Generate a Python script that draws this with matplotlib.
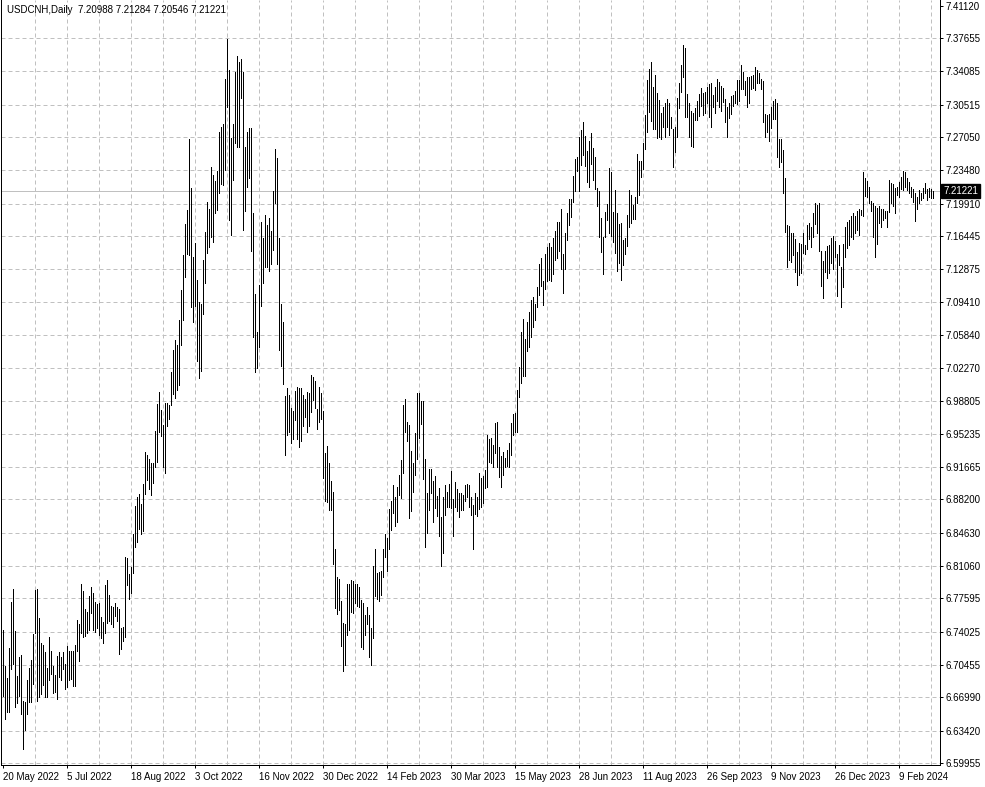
import numpy as np
import pandas as pd
import matplotlib
matplotlib.use("Agg")
import matplotlib.pyplot as plt

# USDCNH daily bars (high / low)
highs = [
    6.742, 6.704, 6.691, 6.723, 6.772, 6.786, 6.741, 6.693, 6.713, 6.715,
    6.666, 6.665, 6.689, 6.701, 6.710, 6.738, 6.785, 6.786, 6.755, 6.728,
    6.726, 6.718, 6.701, 6.735, 6.720, 6.703, 6.694, 6.714, 6.718, 6.713,
    6.718, 6.706, 6.725, 6.720, 6.720, 6.720, 6.726, 6.753, 6.748, 6.791,
    6.784, 6.765, 6.761, 6.778, 6.788, 6.782, 6.772, 6.770, 6.771, 6.756,
    6.751, 6.790, 6.796, 6.780, 6.768, 6.767, 6.771, 6.767, 6.765, 6.744,
    6.745, 6.820, 6.819, 6.802, 6.810, 6.845, 6.875, 6.885, 6.888, 6.877,
    6.899, 6.933, 6.930, 6.925, 6.921, 6.921, 6.955, 6.984, 6.997, 6.978,
    6.962, 6.985, 6.985, 6.983, 7.019, 7.042, 7.053, 7.048, 7.074, 7.107,
    7.144, 7.177, 7.192, 7.268, 7.216, 7.142, 7.157, 7.117, 7.094, 7.091,
    7.139, 7.169, 7.201, 7.193, 7.238, 7.230, 7.223, 7.234, 7.276, 7.281,
    7.284, 7.333, 7.375, 7.342, 7.269, 7.284, 7.340, 7.357, 7.351, 7.354,
    7.340, 7.260, 7.276, 7.280, 7.280, 7.189, 7.102, 7.061, 7.112, 7.179,
    7.162, 7.187, 7.176, 7.184, 7.170, 7.213, 7.258, 7.248, 7.162, 7.092,
    7.072, 6.993, 7.001, 6.994, 6.980, 6.977, 6.998, 7.003, 7.001, 7.001,
    6.994, 6.990, 6.997, 6.996, 7.015, 7.013, 7.009, 6.979, 7.003, 6.996,
    6.977, 6.932, 6.939, 6.921, 6.902, 6.890, 6.829, 6.799, 6.797, 6.773,
    6.750, 6.749, 6.791, 6.791, 6.796, 6.795, 6.791, 6.791, 6.788, 6.774,
    6.771, 6.758, 6.767, 6.758, 6.744, 6.811, 6.829, 6.803, 6.804, 6.805,
    6.829, 6.845, 6.841, 6.872, 6.880, 6.898, 6.885, 6.895, 6.908, 6.924,
    6.983, 6.990, 6.965, 6.962, 6.934, 6.921, 6.953, 6.996, 6.996, 6.988,
    6.987, 6.925, 6.889, 6.915, 6.915, 6.902, 6.907, 6.886, 6.894, 6.863,
    6.885, 6.897, 6.890, 6.899, 6.913, 6.882, 6.901, 6.893, 6.889, 6.889,
    6.887, 6.897, 6.899, 6.897, 6.885, 6.876, 6.889, 6.885, 6.910, 6.905,
    6.907, 6.914, 6.951, 6.947, 6.948, 6.940, 6.964, 6.965, 6.938, 6.929,
    6.933, 6.926, 6.935, 6.943, 6.964, 6.974, 6.975, 6.999, 7.024, 7.061,
    7.075, 7.054, 7.072, 7.083, 7.096, 7.099, 7.092, 7.110, 7.134, 7.141,
    7.116, 7.145, 7.153, 7.157, 7.153, 7.162, 7.170, 7.179, 7.179, 7.193,
    7.145, 7.168, 7.189, 7.204, 7.204, 7.229, 7.247, 7.249, 7.270, 7.278,
    7.287, 7.272, 7.255, 7.266, 7.275, 7.259, 7.249, 7.216, 7.213, 7.184,
    7.163, 7.190, 7.199, 7.237, 7.233, 7.190, 7.214, 7.189, 7.177, 7.178,
    7.160, 7.162, 7.187, 7.214, 7.208, 7.198, 7.206, 7.252, 7.245, 7.245,
    7.264, 7.294, 7.332, 7.343, 7.351, 7.324, 7.337, 7.318, 7.310, 7.296,
    7.303, 7.307, 7.311, 7.307, 7.292, 7.279, 7.281, 7.312, 7.328, 7.348,
    7.369, 7.366, 7.317, 7.307, 7.298, 7.296, 7.302, 7.309, 7.317, 7.323,
    7.318, 7.319, 7.324, 7.327, 7.328, 7.316, 7.324, 7.333, 7.329, 7.325,
    7.323, 7.311, 7.303, 7.307, 7.314, 7.316, 7.320, 7.332, 7.332, 7.348,
    7.340, 7.331, 7.335, 7.335, 7.336, 7.337, 7.346, 7.342, 7.339, 7.333,
    7.331, 7.295, 7.294, 7.295, 7.303, 7.309, 7.311, 7.307, 7.268, 7.268,
    7.257, 7.226, 7.176, 7.175, 7.168, 7.168, 7.161, 7.147, 7.157, 7.156,
    7.168, 7.155, 7.176, 7.178, 7.174, 7.189, 7.200, 7.198, 7.200, 7.148,
    7.138, 7.148, 7.154, 7.155, 7.162, 7.164, 7.159, 7.145, 7.155, 7.131,
    7.156, 7.174, 7.179, 7.182, 7.186, 7.189, 7.186, 7.191, 7.193, 7.192,
    7.233, 7.226, 7.223, 7.217, 7.202, 7.200, 7.196, 7.194, 7.196, 7.193,
    7.193, 7.191, 7.191, 7.224, 7.221, 7.220, 7.216, 7.217, 7.222, 7.228,
    7.234, 7.233, 7.227, 7.222, 7.217, 7.215, 7.210, 7.206, 7.214, 7.210,
    7.216, 7.221, 7.215, 7.216, 7.215, 7.21284,
]

lows = [
    6.671, 6.647, 6.654, 6.654, 6.700, 6.706, 6.660, 6.664, 6.671, 6.652,
    6.615, 6.635, 6.652, 6.665, 6.665, 6.684, 6.739, 6.666, 6.670, 6.674,
    6.683, 6.670, 6.670, 6.689, 6.695, 6.675, 6.676, 6.668, 6.692, 6.689,
    6.700, 6.679, 6.681, 6.689, 6.690, 6.682, 6.682, 6.720, 6.709, 6.739,
    6.735, 6.736, 6.739, 6.742, 6.760, 6.742, 6.740, 6.744, 6.737, 6.734,
    6.728, 6.739, 6.750, 6.752, 6.749, 6.745, 6.757, 6.752, 6.716, 6.722,
    6.730, 6.735, 6.790, 6.775, 6.782, 6.803, 6.831, 6.836, 6.850, 6.845,
    6.848, 6.888, 6.903, 6.893, 6.887, 6.900, 6.917, 6.922, 6.954, 6.950,
    6.917, 6.910, 6.961, 6.968, 6.983, 6.995, 6.991, 6.999, 7.005, 7.048,
    7.074, 7.120, 7.145, 7.144, 7.088, 7.072, 7.089, 7.030, 7.012, 7.020,
    7.081, 7.114, 7.146, 7.153, 7.163, 7.158, 7.189, 7.192, 7.210, 7.220,
    7.219, 7.235, 7.303, 7.182, 7.165, 7.224, 7.264, 7.260, 7.260, 7.312,
    7.171, 7.191, 7.217, 7.226, 7.148, 7.056, 7.019, 7.023, 7.045, 7.089,
    7.114, 7.131, 7.131, 7.127, 7.134, 7.149, 7.200, 7.134, 7.042, 7.025,
    7.006, 6.930, 6.951, 6.954, 6.943, 6.947, 6.967, 6.947, 6.938, 6.945,
    6.961, 6.970, 6.954, 6.961, 6.976, 6.989, 6.980, 6.957, 6.965, 6.968,
    6.905, 6.880, 6.879, 6.871, 6.871, 6.813, 6.766, 6.759, 6.763, 6.725,
    6.698, 6.705, 6.737, 6.742, 6.761, 6.760, 6.771, 6.768, 6.767, 6.724,
    6.722, 6.737, 6.748, 6.713, 6.705, 6.734, 6.778, 6.775, 6.773, 6.780,
    6.799, 6.820, 6.805, 6.829, 6.849, 6.868, 6.854, 6.858, 6.887, 6.884,
    6.910, 6.954, 6.945, 6.862, 6.870, 6.890, 6.908, 6.925, 6.948, 6.963,
    6.904, 6.831, 6.846, 6.871, 6.889, 6.858, 6.873, 6.864, 6.843, 6.811,
    6.825, 6.865, 6.874, 6.874, 6.873, 6.843, 6.874, 6.870, 6.863, 6.871,
    6.871, 6.880, 6.885, 6.874, 6.865, 6.829, 6.866, 6.864, 6.872, 6.874,
    6.878, 6.894, 6.895, 6.922, 6.921, 6.917, 6.932, 6.917, 6.906, 6.895,
    6.908, 6.917, 6.918, 6.917, 6.930, 6.951, 6.954, 6.954, 6.992, 7.007,
    7.014, 7.014, 7.041, 7.045, 7.056, 7.067, 7.074, 7.088, 7.101, 7.111,
    7.090, 7.108, 7.116, 7.117, 7.116, 7.124, 7.139, 7.141, 7.148, 7.129,
    7.103, 7.129, 7.160, 7.176, 7.185, 7.201, 7.213, 7.234, 7.213, 7.240,
    7.251, 7.239, 7.222, 7.217, 7.242, 7.224, 7.215, 7.196, 7.163, 7.147,
    7.124, 7.163, 7.182, 7.168, 7.164, 7.158, 7.146, 7.127, 7.135, 7.117,
    7.133, 7.145, 7.154, 7.174, 7.178, 7.183, 7.183, 7.200, 7.208, 7.228,
    7.236, 7.258, 7.276, 7.297, 7.288, 7.279, 7.279, 7.269, 7.270, 7.268,
    7.281, 7.270, 7.281, 7.273, 7.280, 7.238, 7.254, 7.270, 7.302, 7.319,
    7.335, 7.292, 7.292, 7.270, 7.261, 7.260, 7.289, 7.289, 7.293, 7.304,
    7.294, 7.296, 7.307, 7.292, 7.281, 7.303, 7.296, 7.309, 7.303, 7.298,
    7.308, 7.286, 7.270, 7.291, 7.295, 7.304, 7.307, 7.306, 7.309, 7.322,
    7.322, 7.316, 7.303, 7.307, 7.322, 7.323, 7.321, 7.328, 7.328, 7.322,
    7.286, 7.270, 7.276, 7.266, 7.280, 7.290, 7.290, 7.249, 7.238, 7.244,
    7.210, 7.169, 7.131, 7.139, 7.137, 7.144, 7.126, 7.112, 7.123, 7.125,
    7.146, 7.145, 7.150, 7.161, 7.153, 7.163, 7.177, 7.168, 7.148, 7.111,
    7.098, 7.126, 7.119, 7.125, 7.135, 7.129, 7.142, 7.100, 7.133, 7.088,
    7.110, 7.142, 7.152, 7.155, 7.163, 7.161, 7.168, 7.171, 7.165, 7.187,
    7.186, 7.207, 7.206, 7.200, 7.191, 7.163, 7.142, 7.156, 7.178, 7.174,
    7.182, 7.184, 7.174, 7.190, 7.200, 7.196, 7.189, 7.208, 7.206, 7.215,
    7.214, 7.217, 7.214, 7.210, 7.206, 7.201, 7.180, 7.193, 7.200, 7.203,
    7.205, 7.210, 7.203, 7.206, 7.205, 7.20546,
]

last_bar = {"open": 7.20988, "high": 7.21284, "low": 7.20546, "close": 7.21221}

price_labels = [
    7.41120, 7.37655, 7.34085, 7.30515, 7.27050, 7.23480, 7.19910, 7.16445,
    7.12875, 7.09410, 7.05840, 7.02270, 6.98805, 6.95235, 6.91665, 6.88200,
    6.84630, 6.81060, 6.77595, 6.74025, 6.70455, 6.66990, 6.63420, 6.59955,
]

tick_dates = [
    "2022-05-20", "2022-07-05", "2022-08-18", "2022-10-03", "2022-11-16",
    "2022-12-30", "2023-02-14", "2023-03-30", "2023-05-15", "2023-06-28",
    "2023-08-11", "2023-09-26", "2023-11-09", "2023-12-26", "2024-02-09",
]

n = len(highs)
dates = pd.bdate_range("2022-05-20", "2024-04-30")
dates = dates.drop(pd.to_datetime(["2023-12-25", "2024-01-01"]))[:n]
x = np.arange(n)

W, H = 985, 787
fig = plt.figure(figsize=(W / 100, H / 100), dpi=100)
fig.patch.set_facecolor("white")

# plot area in pixels: x 1..940, y 0..765 (from top)
ax = fig.add_axes([1 / W, (H - 765) / H, 939 / W, 765 / H])
ax.set_facecolor("white")

px = 0.72  # one pixel in points
grid_col = "#c0c0c0"
font = "Liberation Sans"
fs = 7

ax.vlines(x, lows, highs, colors="black", linewidth=px, antialiased=False, zorder=3)

ax.set_xlim(-1, 468.5)
ax.set_ylim(6.59741, 7.41728)

# grid
for p in price_labels[1:]:
    ax.axhline(p, color=grid_col, linewidth=px, linestyle=(0, (4, 3)), zorder=1)
for gx in np.arange(16, 468, 16):
    ax.axvline(gx, color=grid_col, linewidth=px, linestyle=(0, (4, 3)), zorder=1)

# current price line
ax.axhline(last_bar["close"], color="#c0c0c0", linewidth=px, zorder=2)

# spines
ax.spines["top"].set_visible(False)
for s in ["left", "right", "bottom"]:
    ax.spines[s].set_color("black")
    ax.spines[s].set_linewidth(px)

# y axis on the right
ax.yaxis.tick_right()
ax.set_yticks(price_labels)
ax.set_yticklabels([f"{p:.5f}" for p in price_labels], fontsize=fs, family=font)
ax.tick_params(axis="y", length=2.2, width=px, pad=1.5, colors="black")

# x axis dates
tick_pos = [dates.get_loc(pd.Timestamp(d)) for d in tick_dates]
tick_txt = [f"{pd.Timestamp(d).day} {pd.Timestamp(d).strftime('%b %Y')}" for d in tick_dates]
ax.set_xticks(tick_pos)
ax.set_xticklabels(tick_txt, fontsize=fs, family=font, ha="left")
ax.tick_params(axis="x", length=2.2, width=px, pad=2.5, colors="black")

# price label box
ax.annotate(f"{last_bar['close']:.5f}", xy=(1.0, last_bar["close"]),
            xycoords=("axes fraction", "data"), xytext=(2.5, 0), textcoords="offset points",
            ha="left", va="center", fontsize=fs, family=font, color="white",
            bbox=dict(boxstyle="square,pad=0.22", fc="black", ec="black"),
            annotation_clip=False, zorder=5)

# title
fig.text(7 / W, 1 - 10 / H,
         "USDCNH,Daily  {:.5f} {:.5f} {:.5f} {:.5f}".format(
             last_bar["open"], last_bar["high"], last_bar["low"], last_bar["close"]),
         fontsize=fs, family=font, ha="left", va="center", color="black")

fig.savefig("out.png", dpi=100, facecolor="white")
